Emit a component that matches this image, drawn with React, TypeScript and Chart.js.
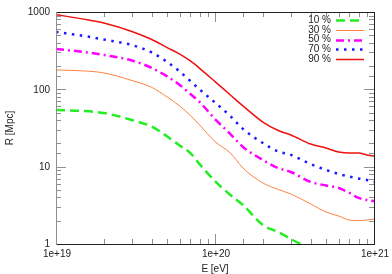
import React, { useEffect, useRef } from "react";
import { Chart, registerables } from "chart.js";
Chart.register(...registerables);

const energies = [1e19, 1.5e19, 2e19, 3e19, 4e19, 5e19, 6e19, 7e19, 8e19, 1e20, 1.25e20, 1.5e20, 2e20, 2.5e20, 3e20, 4e20, 5e20, 6e20, 7e20, 8e20, 9e20, 1e21];
const r10 = [54, 52.5, 49.4, 40.1, 33, 24.6, 18.8, 15, 10.8, 6.5, 4.3, 3.19, 1.76, 1.43, 1.16, 0.86, null, null, null, null, null, null];
const r30 = [178, 173, 163, 130, 106, 79.6, 60.9, 45.9, 34.6, 21.1, 15, 9.6, 6.15, 5.07, 4.43, 3.29, 2.59, 2.3, 2.04, 2.01, 2.04, 2.1];
const r50 = [332, 304, 278, 236, 189, 147, 114, 87, 68.6, 41.3, 26.4, 18, 12.2, 9.6, 8.53, 6.34, 5.71, 5.3, 4.57, 3.94, 3.71, 3.6];
const r70 = [552, 490, 441, 374, 300, 226, 170, 128, 99.6, 67.6, 45, 30.7, 20.2, 15.7, 14.2, 10.8, 9.06, 8.04, 7.46, 7.03, 6.72, 6.34];
const r90 = [923, 809, 721, 560, 441, 347, 286, 233, 187, 126, 84.5, 61, 37.8, 29.4, 25.7, 19.6, 17.4, 15.5, 15, 15, 14.2, 13.7];

const seriesLabels = ["10 %", "30 %", "50 %", "70 %", "90 %"];
const xTitle = "E [eV]";
const yTitle = "R [Mpc]";

const FONT = "'Liberation Sans', Arial, sans-serif";

const isMajor = (v: number) => Math.abs(Math.log10(v) - Math.round(Math.log10(v))) < 1e-6;
const fmtX = (v: number) => v.toExponential(0);
const fmtY = (v: number) => String(Math.round(v));

const framePlugin = {
  id: "frameTicks",
  afterDatasetsDraw(chart: any) {
    const { ctx, chartArea: a } = chart;
    const xs = chart.scales.x;
    const ys = chart.scales.y;
    ctx.save();
    ctx.lineWidth = 1;
    ctx.strokeStyle = "#909090";
    ctx.beginPath();
    for (const t of xs.ticks) {
      const px = Math.round(xs.getPixelForValue(t.value)) + 0.5;
      const len = isMajor(t.value) ? 10 : 5;
      ctx.moveTo(px, a.bottom);
      ctx.lineTo(px, a.bottom - len);
      ctx.moveTo(px, a.top);
      ctx.lineTo(px, a.top + len);
    }
    for (const t of ys.ticks) {
      const py = Math.round(ys.getPixelForValue(t.value)) + 0.5;
      const len = isMajor(t.value) ? 10 : 5;
      ctx.moveTo(a.left, py);
      ctx.lineTo(a.left + len, py);
      ctx.moveTo(a.right, py);
      ctx.lineTo(a.right - len, py);
    }
    ctx.stroke();
    ctx.strokeStyle = "#222";
    ctx.beginPath();
    ctx.moveTo(a.left, a.top + 0.5);
    ctx.lineTo(a.right, a.top + 0.5);
    ctx.moveTo(a.left, a.bottom + 0.5);
    ctx.lineTo(a.right + 1, a.bottom + 0.5);
    ctx.moveTo(a.right + 0.5, a.top);
    ctx.lineTo(a.right + 0.5, a.bottom);
    ctx.stroke();
    ctx.strokeStyle = "#909090";
    ctx.beginPath();
    ctx.moveTo(a.left + 0.5, a.top);
    ctx.lineTo(a.left + 0.5, a.bottom + 1);
    ctx.stroke();
    ctx.restore();
  },
  afterDraw(chart: any) {
    const { ctx, chartArea: a } = chart;
    const xs = chart.scales.x;
    const ys = chart.scales.y;
    ctx.save();
    ctx.font = `10px ${FONT}`;
    ctx.fillStyle = "#222";
    ctx.textBaseline = "middle";
    ctx.textAlign = "right";
    for (const t of ys.ticks) {
      if (!isMajor(t.value)) continue;
      ctx.fillText(fmtY(t.value), a.left - 6, ys.getPixelForValue(t.value) + 0.5);
    }
    ctx.textAlign = "center";
    for (const t of xs.ticks) {
      if (!isMajor(t.value)) continue;
      ctx.fillText(fmtX(t.value), xs.getPixelForValue(t.value) + 1, a.bottom + 10.5);
    }
    ctx.fillText(xTitle, (a.left + a.right) / 2, 269);
    ctx.save();
    ctx.translate(10, (a.top + a.bottom) / 2);
    ctx.rotate(-Math.PI / 2);
    ctx.fillText(yTitle, 0, 0);
    ctx.restore();
    const textRight = 331;
    const x0 = 336;
    const x1 = 364;
    chart.data.datasets.forEach((ds: any, i: number) => {
      const y = 20 + i * 9.8;
      ctx.fillStyle = "#222";
      ctx.textAlign = "right";
      ctx.fillText(ds.label, textRight, y);
      ctx.save();
      ctx.strokeStyle = ds.borderColor;
      ctx.lineWidth = ds.borderWidth;
      ctx.setLineDash(ds.borderDash || []);
      ctx.beginPath();
      ctx.moveTo(x0, Math.round(y) + 0.5);
      ctx.lineTo(x1, Math.round(y) + 0.5);
      ctx.stroke();
      ctx.restore();
    });
    ctx.restore();
  },
};

export default function App() {
  const ref = useRef<HTMLCanvasElement>(null);
  useEffect(() => {
    document.body.style.margin = "0";
    const styles = [
      { color: "#22ee22", width: 2.5, dash: [9, 5] },
      { color: "#ff8040", width: 1, dash: [] },
      { color: "#ff00ff", width: 2.5, dash: [8, 4, 2, 4] },
      { color: "#1a1aff", width: 2.5, dash: [2.5, 5.5] },
      { color: "#ee1111", width: 1.5, dash: [] },
    ];
    const series = [r10, r30, r50, r70, r90];
    const chart = new Chart(ref.current!, {
      type: "line",
      data: {
        datasets: series.map((s, i) => ({
          label: seriesLabels[i],
          data: energies.map((e, j) => ({ x: e, y: s[j] })),
          borderColor: styles[i].color,
          borderWidth: styles[i].width,
          borderDash: styles[i].dash,
          pointRadius: 0,
          fill: false,
          cubicInterpolationMode: "monotone",
          spanGaps: false,
        })) as any,
      },
      options: {
        responsive: false,
        animation: false,
        layout: { padding: { left: 0, top: 12, right: 18, bottom: 0 } },
        plugins: { legend: { display: false }, tooltip: { enabled: false } },
        scales: {
          x: {
            type: "logarithmic",
            min: 1e19,
            max: 1e21,
            grid: { display: false, drawTicks: false },
            border: { display: false },
            ticks: { display: false, autoSkip: false },
            afterFit(s: any) {
              s.height = 30;
            },
          },
          y: {
            type: "logarithmic",
            min: 1,
            max: 1000,
            grid: { display: false, drawTicks: false },
            border: { display: false },
            ticks: { display: false, autoSkip: false },
            afterFit(s: any) {
              s.width = 56;
            },
          },
        },
      },
      plugins: [framePlugin],
    });
    return () => chart.destroy();
  }, []);
  return <canvas ref={ref} width={392} height={274} style={{ display: "block" }} />;
}
